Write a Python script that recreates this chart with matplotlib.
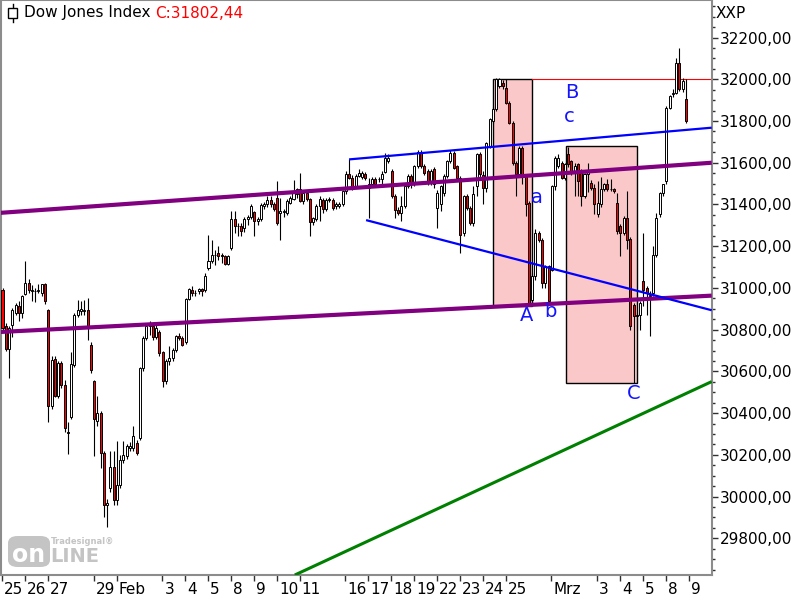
import matplotlib
matplotlib.use("Agg")
import matplotlib.pyplot as plt
from matplotlib.patches import Rectangle, FancyBboxPatch
from matplotlib.transforms import ScaledTranslation
from matplotlib.ticker import MultipleLocator, FixedLocator
import numpy as np

# ---------------- data (hourly candles, 7 per trading day) ----------------
opens = [
    30992, 30816, 30707, 30824, 30880, 30912, 30880,
    30973, 31024, 30984, 30984, 30984, 30976, 31021,
    30896, 30432, 30659, 30483, 30640, 30536, 30310,
    30381, 30632, 30872, 30888, 30890, 30893, 30728,
    30552, 30360, 30400, 30208, 29960, 30040, 30140,
    29984, 30056, 30176, 30192, 30232, 30232, 30256,
    30280, 30616, 30760, 30816, 30816, 30765, 30789,
    30693, 30552, 30648, 30664, 30704, 30771, 30760,
    30741, 30947, 30989, 30976, 30984, 30995, 30992,
    31096, 31128, 31160, 31165, 31160, 31152, 31115,
    31192, 31328, 31299, 31299, 31288, 31328, 31340,
    31363, 31320, 31328, 31392, 31400, 31419, 31400,
    31432, 31360, 31363, 31357, 31408, 31427, 31472,
    31472, 31416, 31456, 31424, 31315, 31328, 31392,
    31419, 31376, 31421, 31421, 31392, 31394, 31400,
    31464, 31547, 31528, 31488, 31536, 31530, 31544,
    31480, 31496, 31523, 31520, 31523, 31555, 31608,
    31560, 31440, 31373, 31357, 31392, 31488, 31536,
    31504, 31584, 31651, 31584, 31560, 31504, 31568,
    31384, 31400, 31456, 31536, 31608, 31648, 31584,
    31528, 31264, 31440, 31384, 31312, 31488, 31640,
    31540, 31480, 31680, 31800, 31856, 31968, 31984,
    31960, 31888, 31792, 31600, 31544, 31672, 31536,
    31408, 30944, 31056, 31264, 31232, 31024, 31104,
    31088, 31488, 31584, 31597, 31528, 31640, 31608,
    31552, 31592, 31560, 31440, 31544, 31504, 31480,
    31352, 31400, 31472, 31496, 31472, 31472, 31408,
    31296, 31264, 31336, 31235, 30920, 30872, 30872,
    31032, 31000, 30960, 30976, 31160, 31352, 31456,
    31512, 31864, 31928, 31936, 32080, 31952, 31907,
]
highs = [
    31000, 30830, 30816, 30904, 30930, 30936, 30968,
    31128, 31043, 31016, 31000, 31021, 31021, 31025,
    30900, 30672, 30672, 30650, 30650, 30560, 30355,
    30692, 30880, 30944, 30936, 30940, 30952, 30740,
    30560, 30480, 30410, 30216, 29990, 30216, 30216,
    30264, 30200, 30264, 30250, 30260, 30336, 30270,
    30620, 30770, 30830, 30840, 30830, 30820, 30800,
    30700, 30660, 30720, 30710, 30775, 30784, 30770,
    30950, 31000, 31008, 30992, 31000, 31000, 31072,
    31256, 31232, 31184, 31200, 31165, 31160, 31160,
    31370, 31370, 31312, 31310, 31340, 31350, 31400,
    31370, 31340, 31405, 31410, 31440, 31440, 31410,
    31512, 31432, 31380, 31425, 31440, 31517, 31480,
    31552, 31465, 31470, 31430, 31340, 31400, 31440,
    31430, 31430, 31435, 31430, 31410, 31410, 31470,
    31560, 31616, 31540, 31545, 31570, 31560, 31555,
    31528, 31530, 31530, 31530, 31560, 31648, 31640,
    31570, 31450, 31390, 31440, 31495, 31545, 31545,
    31590, 31660, 31660, 31595, 31570, 31570, 31580,
    31470, 31495, 31545, 31615, 31660, 31655, 31590,
    31535, 31445, 31450, 31395, 31488, 31645, 31650,
    31560, 31700, 31815, 31865, 32008, 32008, 31995,
    32000, 31895, 31800, 31610, 31680, 31680, 31545,
    31415, 31070, 31280, 31275, 31240, 31110, 31110,
    31495, 31630, 31640, 31610, 31600, 31677, 31615,
    31600, 31600, 31570, 31550, 31600, 31515, 31500,
    31512, 31530, 31505, 31520, 31520, 31480, 31456,
    31304, 31345, 31464, 31245, 30930, 30880, 30935,
    31264, 31010, 30985, 31200, 31360, 31460, 31500,
    31870, 31925, 31952, 32100, 32152, 32008, 32000,
]
lows = [
    30790, 30700, 30568, 30765, 30870, 30840, 30856,
    30968, 30976, 30936, 30931, 30976, 30963, 30923,
    30355, 30420, 30475, 30470, 30520, 30310, 30205,
    30370, 30620, 30860, 30870, 30870, 30752, 30592,
    30195, 30340, 30136, 29900, 29856, 30020, 29960,
    29960, 30040, 30160, 30180, 30220, 30220, 30200,
    30270, 30600, 30750, 30776, 30750, 30755, 30672,
    30524, 30540, 30630, 30650, 30695, 30750, 30720,
    30730, 30944, 30960, 30960, 30970, 30960, 30980,
    31088, 31120, 31112, 31136, 31120, 31110, 31108,
    31180, 31264, 31248, 31248, 31270, 31300, 31330,
    31248, 31300, 31320, 31380, 31390, 31390, 31370,
    31300, 31232, 31340, 31350, 31400, 31420, 31430,
    31410, 31400, 31415, 31248, 31300, 31320, 31320,
    31360, 31370, 31410, 31375, 31380, 31385, 31395,
    31450, 31520, 31470, 31480, 31530, 31520, 31515,
    31336, 31490, 31490, 31510, 31496, 31550, 31600,
    31430, 31336, 31350, 31320, 31385, 31480, 31480,
    31490, 31575, 31575, 31540, 31495, 31495, 31480,
    31288, 31370, 31440, 31525, 31600, 31570, 31520,
    31168, 31250, 31375, 31300, 31296, 31440, 31530,
    31400, 31460, 31670, 31790, 31850, 31960, 31955,
    31880, 31785, 31590, 31440, 31530, 31500, 31344,
    30920, 30930, 31040, 31220, 31000, 31000, 30928,
    31080, 31470, 31575, 31520, 31515, 31580, 31540,
    31440, 31440, 31392, 31430, 31460, 31470, 31352,
    31340, 31390, 31465, 31465, 31465, 31455, 31260,
    31152, 31255, 31185, 30800, 30544, 30800, 30800,
    30912, 30872, 30768, 30960, 31150, 31340, 31440,
    31500, 31856, 31915, 31930, 31945, 31940, 31792,
]
closes = [
    30808, 30707, 30808, 30893, 30920, 30880, 30963,
    31024, 30989, 30989, 30986, 30990, 31021, 30936,
    30432, 30656, 30483, 30640, 30536, 30328, 30305,
    30637, 30872, 30893, 30900, 30896, 30816, 30608,
    30371, 30400, 30208, 29960, 29968, 30140, 29984,
    30056, 30176, 30200, 30243, 30243, 30288, 30211,
    30616, 30760, 30816, 30820, 30763, 30808, 30688,
    30552, 30648, 30664, 30704, 30768, 30760, 30728,
    30947, 30995, 30976, 30978, 30995, 30984, 31056,
    31128, 31160, 31160, 31152, 31152, 31115, 31152,
    31328, 31299, 31296, 31272, 31328, 31340, 31392,
    31320, 31331, 31397, 31400, 31419, 31400, 31379,
    31312, 31368, 31371, 31416, 31432, 31456, 31448,
    31416, 31456, 31424, 31315, 31333, 31392, 31424,
    31376, 31421, 31424, 31384, 31400, 31400, 31464,
    31547, 31528, 31480, 31536, 31552, 31552, 31528,
    31496, 31523, 31496, 31523, 31544, 31624, 31624,
    31440, 31373, 31357, 31392, 31488, 31536, 31496,
    31584, 31651, 31584, 31552, 31504, 31560, 31496,
    31456, 31488, 31536, 31608, 31648, 31576, 31528,
    31256, 31440, 31384, 31312, 31448, 31640, 31544,
    31480, 31696, 31808, 31856, 32000, 32000, 31968,
    31888, 31792, 31600, 31544, 31672, 31536, 31400,
    30928, 31056, 31264, 31232, 31024, 31104, 30936,
    31488, 31624, 31624, 31528, 31592, 31592, 31552,
    31584, 31512, 31440, 31544, 31560, 31480, 31400,
    31408, 31472, 31496, 31472, 31475, 31464, 31272,
    31264, 31336, 31232, 30816, 30864, 30867, 30928,
    30992, 30976, 30968, 31160, 31336, 31456, 31496,
    31864, 31920, 31936, 32080, 31952, 31992, 31802,
]

bars_per_day = 7
tick_days = [0, 1, 2, 4, 5, 7, 8, 9, 10, 11, 12, 13, 15, 16, 17, 18, 19, 20,
             21, 22, 24, 26, 27, 28, 29, 30]
tick_labels = ["25", "26", "27", "29", "Feb", "3", "4", "5", "8", "9", "10",
               "11", "16", "17", "18", "19", "22", "23", "24", "25", "Mrz",
               "3", "4", "5", "8", "9"]
y_ticks = [29800, 30000, 30200, 30400, 30600, 30800, 31000, 31200, 31400,
           31600, 31800, 32000, 32200]

# trend lines: (bar index, value) endpoints
purple_upper = ([-0.5, 216.9], [31360, 31600])
purple_lower = ([-0.5, 216.9], [30789, 30963])
blue_upper = ([106.0, 216.9], [31616, 31768])
blue_lower = ([111.2, 216.9], [31325, 30893])
green_line = ([89.4, 216.9], [29624, 30551])

# boxes: (x0, x1, y0, y1)
box1 = (150.1, 162.0, 30913, 32000)
box2 = (172.2, 194.1, 30543, 31680)
level_line = 32000

wave_labels = [("B", 174.2, 31939), ("c", 173.2, 31824), ("a", 163.5, 31431),
               ("A", 160.4, 30870), ("b", 167.7, 30885), ("C", 193.1, 30496)]

last_close_text = "C:31802,44"

# ---------------- figure ----------------
O = np.array(opens, float)
H = np.array(highs, float)
L = np.array(lows, float)
C = np.array(closes, float)
x = np.arange(len(O))

plt.rcParams["font.family"] = ["DejaVu Sans"]
fig = plt.figure(figsize=(8, 6), dpi=100, facecolor="white")
ax = fig.add_axes([1 / 800, 25 / 600, 710.7 / 800, 575 / 600])
ax.set_facecolor("white")

# boxes
for (x0, x1, y0, y1) in (box1, box2):
    ax.add_patch(Rectangle((x0, y0), x1 - x0, y1 - y0, facecolor="#fac8c8",
                           edgecolor="black", linewidth=1.0, zorder=1))
ax.plot([box1[1], 216.9], [level_line, level_line], color="#ff0000",
        lw=0.8, zorder=1.5)

# candles
ax.vlines(x, L, H, color="black", lw=0.8, zorder=2.9)
up = C >= O
body_col = np.where(up, "white", "#ff0000")
ax.bar(x, np.abs(C - O), bottom=np.minimum(O, C), width=0.62,
       color=body_col, edgecolor="black", linewidth=0.7, zorder=3)

# trend lines
ax.plot(*purple_upper, color="#800080", lw=3.0, zorder=4, solid_capstyle="butt")
ax.plot(*purple_lower, color="#800080", lw=3.0, zorder=4, solid_capstyle="butt")
ax.plot(*blue_upper, color="#0000ff", lw=1.6, zorder=4, solid_capstyle="butt")
ax.plot(*blue_lower, color="#0000ff", lw=1.6, zorder=4, solid_capstyle="butt")
ax.plot(*green_line, color="#008000", lw=2.2, zorder=4, solid_capstyle="butt")

for txt, xi, yv in wave_labels:
    ax.text(xi, yv, txt, color="#1414ff", fontsize=14, ha="center",
            va="center", zorder=5)

ax.set_xlim(-0.46, 216.9)
ax.set_ylim(29624, 32380)

# y axis on the right
ax.yaxis.tick_right()
ax.yaxis.set_major_locator(FixedLocator(y_ticks))
ax.set_yticklabels([f"{v:.2f}".replace(".", ",") for v in y_ticks])
ax.yaxis.set_minor_locator(MultipleLocator(50))
ax.tick_params(axis="y", which="major", direction="out", length=4, width=1,
               color="#303030", labelsize=11, pad=2, labelcolor="black")
ax.tick_params(axis="y", which="minor", direction="out", length=2, width=1,
               color="#303030")

# x axis
ax.set_xticks([d * bars_per_day - 0.1 for d in tick_days])
ax.set_xticklabels(tick_labels)
ax.tick_params(axis="x", which="major", direction="out", length=4, width=1,
               color="#303030", labelsize=11, pad=1, labelcolor="black")
offset = ScaledTranslation(2 / 100, 0, fig.dpi_scale_trans)
for lbl in ax.get_xticklabels():
    lbl.set_horizontalalignment("left")
    lbl.set_transform(lbl.get_transform() + offset)

for side in ("left", "right", "bottom", "top"):
    ax.spines[side].set_color("#8c8c8c")
    ax.spines[side].set_linewidth(1.5)

# header
t1 = fig.text(24 / 800, 1 - 13 / 600, "Dow Jones Index", fontsize=11,
              color="black", ha="left", va="center")
ax.annotate(last_close_text, xy=(1, 0.5), xycoords=t1, xytext=(3, 0),
            textcoords="offset points", fontsize=11, color="#ff0000",
            ha="left", va="center")
fig.text(716 / 800, 1 - 13 / 600, "XXP", fontsize=11, color="black",
         ha="left", va="center")

# small candlestick icon in header
fig.add_artist(plt.Line2D([12.5 / 800, 12.5 / 800], [1 - 4 / 600, 1 - 22 / 600],
                          transform=fig.transFigure, color="black", lw=1))
fig.add_artist(Rectangle((8 / 800, 1 - 18 / 600), 9 / 800, 10 / 600,
                         transform=fig.transFigure, facecolor="white",
                         edgecolor="black", lw=1, zorder=5))

# watermark logo
fig.add_artist(FancyBboxPatch((8 / 800, 1 - 567 / 600), 42 / 800, 31 / 600,
                              boxstyle="round,pad=0,rounding_size=0.012",
                              transform=fig.transFigure, facecolor="#c4c4c4",
                              edgecolor="none", zorder=5))
fig.text(29 / 800, 1 - 555 / 600, "on", fontsize=17, fontweight="bold",
         color="white", ha="center", va="center", zorder=6)
fig.text(50 / 800, 1 - 556 / 600, "LINE", fontsize=14, fontweight="bold",
         color="#c4c4c4", ha="left", va="center", zorder=6)
fig.text(51 / 800, 1 - 542 / 600, "Tradesignal®", fontsize=6,
         fontweight="bold", color="#c4c4c4", ha="left", va="center", zorder=6)

fig.savefig("out.png", dpi=100, facecolor="white")
